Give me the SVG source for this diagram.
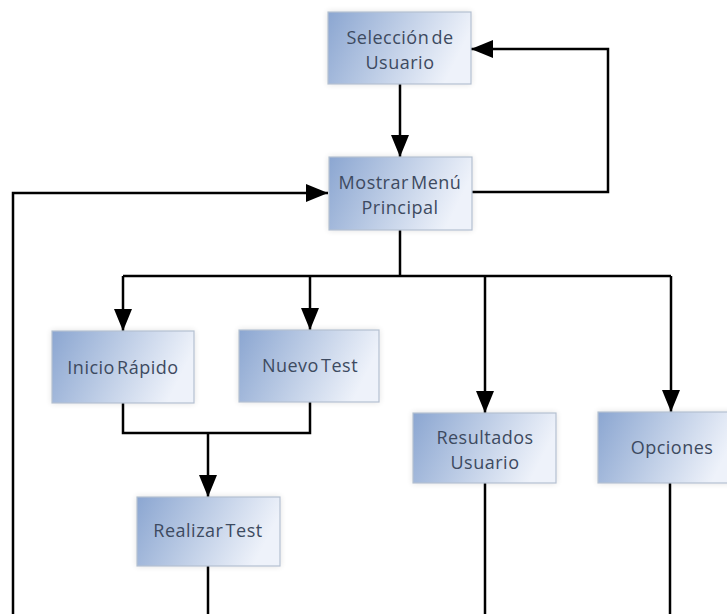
<svg xmlns="http://www.w3.org/2000/svg" width="727" height="614" viewBox="0 0 727 614">
  <defs>
    <linearGradient id="boxFill" x1="0" y1="0" x2="1" y2="0.25">
      <stop offset="0" stop-color="#8ba6d1"/>
      <stop offset="0.45" stop-color="#b7c8e3"/>
      <stop offset="1" stop-color="#eef2fa"/>
    </linearGradient>
    <filter id="glow" x="-10%" y="-15%" width="120%" height="130%">
      <feGaussianBlur in="SourceAlpha" stdDeviation="3"/>
      <feComponentTransfer><feFuncA type="linear" slope="0.12"/></feComponentTransfer>
      <feMerge><feMergeNode/><feMergeNode in="SourceGraphic"/></feMerge>
    </filter>
    <marker id="arrow" viewBox="0 0 22 18" refX="22" refY="9" markerWidth="22" markerHeight="18" markerUnits="userSpaceOnUse" orient="auto">
      <path d="M0,0 L22,9 L0,18 Z" fill="#000"/>
    </marker>
  </defs>
  <style>
    .box { fill: url(#boxFill); stroke: #b4c0d0; stroke-width: 1.2; filter: url(#glow); }
    .label { font-family: "Open Sans", "DejaVu Sans", sans-serif; font-size: 18px; fill: #3d4a60; text-anchor: middle; letter-spacing: 0.5px; word-spacing: -3px; }
    .wire { fill: none; stroke: #000; stroke-width: 2.5; }
  </style>
  <rect width="727" height="614" fill="#fff"/>

  <g id="connectors">
    <!-- Selección -> Mostrar -->
    <path class="wire" d="M400,84 V157" marker-end="url(#arrow)"/>
    <!-- Mostrar back to Selección -->
    <path class="wire" d="M472,192 H608 V49 H471" marker-end="url(#arrow)"/>
    <!-- Mostrar to the four options -->
    <path class="wire" d="M400,230 V276"/>
    <path class="wire" d="M123,276 H671"/>
    <path class="wire" d="M123,276 V331" marker-end="url(#arrow)"/>
    <path class="wire" d="M310,276 V330" marker-end="url(#arrow)"/>
    <path class="wire" d="M485,276 V413" marker-end="url(#arrow)"/>
    <path class="wire" d="M671,276 V412" marker-end="url(#arrow)"/>
    <!-- Inicio / Nuevo -> Realizar -->
    <path class="wire" d="M123,403 V433 H310 V402"/>
    <path class="wire" d="M208,433 V497" marker-end="url(#arrow)"/>
    <!-- returns running off the bottom edge -->
    <path class="wire" d="M208,566 V614"/>
    <path class="wire" d="M485,483 V614"/>
    <path class="wire" d="M670,483 V614"/>
    <path class="wire" d="M13,614 V193 H328" stroke-width="3" marker-end="url(#arrow)"/>
  </g>

  <g id="seleccion-usuario">
    <rect class="box" x="328" y="12" width="143" height="72"/>
    <text class="label" x="400" y="44">Selección de</text>
    <text class="label" x="400" y="69">Usuario</text>
  </g>

  <g id="mostrar-menu">
    <rect class="box" x="329" y="157" width="143" height="73"/>
    <text class="label" x="400" y="189">Mostrar Menú</text>
    <text class="label" x="400" y="214">Principal</text>
  </g>

  <g id="inicio-rapido">
    <rect class="box" x="52" y="331" width="142" height="72"/>
    <text class="label" x="123" y="374">Inicio Rápido</text>
  </g>

  <g id="nuevo-test">
    <rect class="box" x="239" y="330" width="140" height="72"/>
    <text class="label" x="310" y="372">Nuevo Test</text>
  </g>

  <g id="resultados-usuario">
    <rect class="box" x="413" y="413" width="143" height="70"/>
    <text class="label" x="485" y="444">Resultados</text>
    <text class="label" x="485" y="469">Usuario</text>
  </g>

  <g id="opciones">
    <rect class="box" x="598" y="412" width="140" height="71"/>
    <text class="label" x="672" y="454">Opciones</text>
  </g>

  <g id="realizar-test">
    <rect class="box" x="137" y="497" width="143" height="69"/>
    <text class="label" x="208" y="537">Realizar Test</text>
  </g>
</svg>
